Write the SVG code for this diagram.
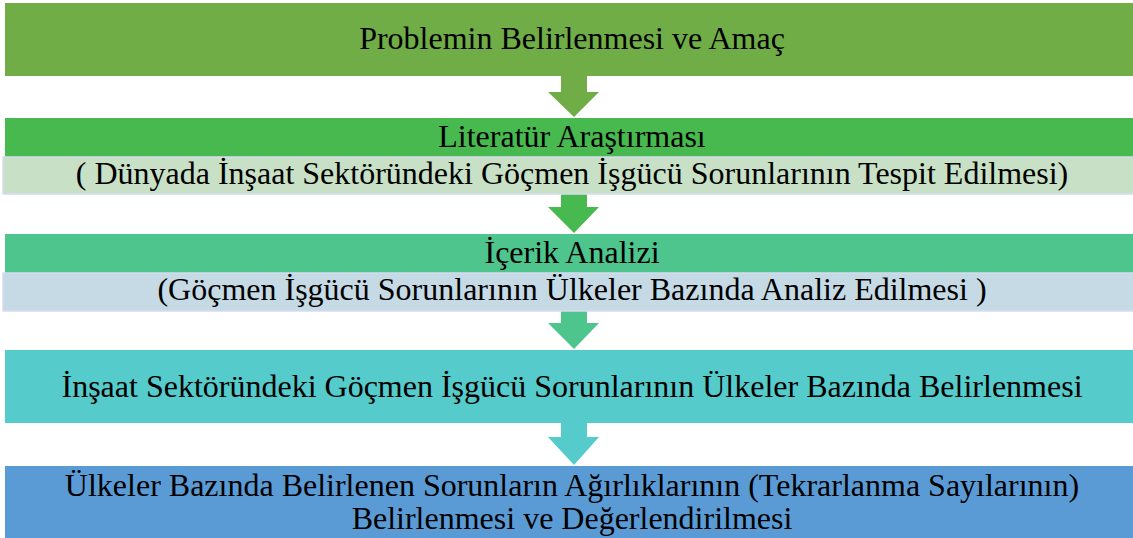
<svg xmlns="http://www.w3.org/2000/svg" width="1133" height="538" viewBox="0 0 1133 538">
<style>
text{font-family:'Liberation Serif','Times New Roman',serif;font-size:32px;fill:#000;text-anchor:middle}
.sub{stroke:#d6dcef;stroke-width:1.5}
</style>
<rect width="1133" height="538" fill="#fff"/>
<g id="connectors">
<polygon points="561,76 587,76 587,92 599,92 574,117 548,92 561,92" fill="#70ad47"/>
<polygon points="561,194 587,194 587,207 599,207 574,233 548,207 561,207" fill="#47b94f"/>
<polygon points="561,311 587,311 587,323 599,323 574,349 548,323 561,323" fill="#4ec58c"/>
<polygon points="561,423 587,423 587,437 599,437 574,465 548,437 561,437" fill="#55cbcb"/>
</g>
<g id="node1">
<rect x="5" y="3" width="1128" height="73" fill="#70ad47"/>
<text x="572" y="49">Problemin Belirlenmesi ve Amaç</text>
</g>
<g id="node2">
<rect x="5" y="118" width="1128" height="39" fill="#47b94f"/>
<rect class="sub" x="3" y="157" width="1131" height="37" fill="#c8e0c5"/>
<text x="572" y="147">Literatür Araştırması</text>
<text x="572" y="184">( Dünyada İnşaat Sektöründeki Göçmen İşgücü Sorunlarının Tespit Edilmesi)</text>
</g>
<g id="node3">
<rect x="5" y="234" width="1128" height="39" fill="#4ec58c"/>
<rect class="sub" x="3" y="273" width="1131" height="38" fill="#c5dae5"/>
<text x="572" y="263">İçerik Analizi</text>
<text x="572" y="300">(Göçmen İşgücü Sorunlarının Ülkeler Bazında Analiz Edilmesi )</text>
</g>
<g id="node4">
<rect x="5" y="350" width="1128" height="73" fill="#55cbcb"/>
<text x="572" y="397">İnşaat Sektöründeki Göçmen İşgücü Sorunlarının Ülkeler Bazında Belirlenmesi</text>
</g>
<g id="node5">
<rect x="5" y="466" width="1128" height="72" fill="#5b9bd5"/>
<text x="572" y="496">Ülkeler Bazında Belirlenen Sorunların Ağırlıklarının (Tekrarlanma Sayılarının)</text>
<text x="572" y="529">Belirlenmesi ve Değerlendirilmesi</text>
</g>
</svg>
